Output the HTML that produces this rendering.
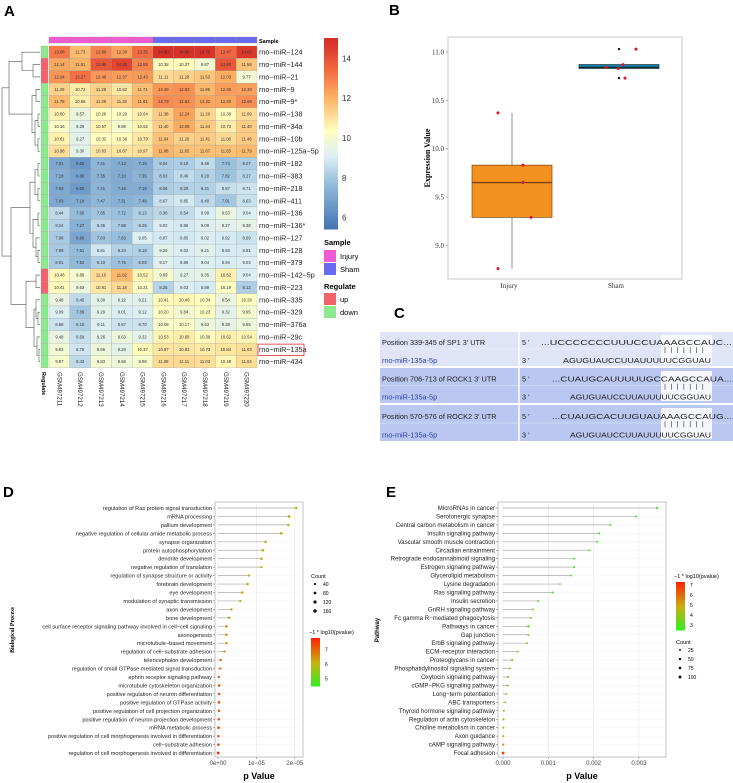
<!DOCTYPE html>
<html><head><meta charset="utf-8">
<style>
html,body{margin:0;padding:0;background:#fff;}
svg{display:block;font-family:"Liberation Sans",sans-serif;}
</style></head>
<body>
<svg id="fig" width="733" height="783" viewBox="0 0 733 783" xmlns="http://www.w3.org/2000/svg">
<g font-weight="bold" font-size="15">
<text x="4" y="16">A</text>
<text x="389" y="15">B</text>
<text x="394" y="318">C</text>
<text x="3" y="497">D</text>
<text x="386" y="497">E</text>
</g>
<g id="heat"></g>
<g id="box"></g>
<g id="seq"></g>
<g id="go"></g>
<g id="kegg"></g>
</svg>
<script>
// ---------- Heatmap data ----------
const hmRows = ["rno−miR−124","rno−miR−144","rno−miR−21","rno−miR−9","rno−miR−9*","rno−miR−138","rno−miR−34a","rno−miR−10b","rno−miR−125a−5p","rno−miR−182","rno−miR−383","rno−miR−218","rno−miR−411","rno−miR−136","rno−miR−136*","rno−miR−127","rno−miR−128","rno−miR−379","rno−miR−142−5p","rno−miR−223","rno−miR−335","rno−miR−329","rno−miR−376a","rno−miR−29c","rno−miR−135a","rno−miR−434"];
const hmCols = ["GSM497211","GSM497212","GSM497213","GSM497214","GSM497215","GSM497216","GSM497217","GSM497218","GSM497219","GSM497220"];
const hmGroups = ["Injury","Injury","Injury","Injury","Injury","Sham","Sham","Sham","Sham","Sham"];
const hmRegulate = ["down","up","up","down","down","down","down","down","down","down","down","down","down","down","down","down","down","down","up","up","down","down","down","down","down","down"];
const hmValues = [
[13.08,11.73,12.89,12.30,13.35,14.90,14.80,14.70,13.47,14.60],
[12.14,11.91,13.85,14.30,12.85,10.38,10.37,9.87,13.90,11.58],
[12.54,13.27,12.48,12.37,12.43,11.11,11.28,11.53,12.03,9.77],
[11.29,10.72,11.28,10.82,11.71,12.49,12.63,11.85,12.35,12.30],
[11.78,10.68,11.39,11.32,11.91,12.73,12.63,12.22,12.20,12.66],
[10.60,9.57,10.26,10.20,10.64,11.38,12.24,11.20,10.39,11.09],
[10.16,9.26,10.57,9.88,10.52,11.40,12.08,11.44,10.73,11.40],
[10.61,9.27,10.32,10.36,10.79,11.64,11.29,11.41,11.08,11.46],
[10.98,9.30,10.83,10.87,10.97,11.88,11.65,11.67,11.65,11.79],
[7.01,6.50,7.41,7.13,7.18,8.04,8.10,8.46,7.74,8.07],
[7.18,6.80,7.35,7.10,7.35,8.03,8.46,8.20,7.82,8.27],
[7.03,6.60,7.41,7.16,7.15,8.06,8.20,8.21,8.57,8.71],
[7.03,7.10,7.47,7.31,7.48,8.67,8.85,8.40,7.91,8.63],
[8.44,7.60,7.85,7.72,8.13,8.38,8.54,8.99,9.53,9.04],
[8.24,7.27,8.36,7.98,8.25,9.02,8.86,9.09,9.27,9.38],
[7.98,6.90,7.83,7.63,9.05,8.87,8.85,9.02,8.92,8.69],
[7.99,7.61,8.81,8.24,8.18,9.26,9.02,9.21,8.93,8.91],
[8.01,7.52,8.10,7.76,8.03,9.17,8.89,9.04,8.94,9.03],
[10.46,9.86,11.10,11.82,10.52,9.89,9.27,9.35,10.62,9.04],
[10.41,9.63,10.81,11.18,10.21,8.26,9.03,8.89,10.19,8.12],
[9.48,8.45,9.30,9.22,9.21,10.41,10.49,10.34,9.54,10.28],
[9.09,7.89,9.29,9.01,9.12,10.20,9.84,10.23,9.32,9.95],
[8.68,8.10,9.11,8.67,8.70,10.08,10.17,9.63,9.38,9.65],
[9.48,8.59,9.26,9.63,9.32,10.53,10.68,10.36,10.62,10.54],
[9.83,8.76,9.65,9.29,10.37,10.87,10.83,10.73,10.84,11.03],
[9.97,8.43,9.83,9.68,9.98,11.08,11.11,11.03,10.48,11.04]];
const hmTicks = [6,8,10,12,14];
// ---------- Boxplot data ----------
const bxGroups = ["Injury","Sham"];
const bxInjury = [9.83,8.76,9.65,9.29,10.37];
const bxSham = [10.87,10.83,10.73,10.84,11.03];
const bxTicks = [9.0,9.5,10.0,10.5,11.0];
// ---------- GO data (p in units of 1e-5) ----------
const goTerms = ["regulation of Ras protein signal transduction","mRNA processing","pallium development","negative regulation of cellular amide metabolic process","synapse organization","protein autophosphorylation","dendrite development","negative regulation of translation","regulation of synapse structure or activity","forebrain development","eye development","modulation of synaptic transmission","axon development","bone development","cell surface receptor signaling pathway involved in cell−cell signaling","axonogenesis","microtubule−based movement","regulation of cell−substrate adhesion","telencephalon development","regulation of small GTPase mediated signal transduction","ephrin receptor signaling pathway","microtubule cytoskeleton organization","positive regulation of neuron differentiation","positive regulation of GTPase activity","positive regulation of cell projection organization","positive regulation of neuron projection development","mRNA metabolic process","positive regulation of cell morphogenesis involved in differentiation","cell−substrate adhesion","regulation of cell morphogenesis involved in differentiation"];
const goPvals = [2.04,1.85,1.83,1.65,1.24,1.17,1.13,1.13,0.81,0.77,0.63,0.58,0.35,0.29,0.22,0.22,0.22,0.17,0.07,0.06,0.02,0.03,0.03,0.025,0.025,0.02,0.015,0.01,0.01,0.005];
const goCounts = [60,80,60,70,60,70,60,40,50,60,60,40,50,50,60,60,50,40,50,50,40,60,60,70,60,60,70,50,60,80];
const goTicks = [0,1,2];
const goTickLabels = ["0e+00","1e−05","2e−05"];
// ---------- KEGG data ----------
const kgTerms = ["MicroRNAs in cancer","Serotonergic synapse","Central carbon metabolism in cancer","Insulin signaling pathway","Vascular smooth muscle contraction","Circadian entrainment","Retrograde endocannabinoid signaling","Estrogen signaling pathway","Glycerolipid metabolism","Lysine degradation","Ras signaling pathway","Insulin secretion","GnRH signaling pathway","Fc gamma R−mediated phagocytosis","Pathways in cancer","Gap junction","ErbB signaling pathway","ECM−receptor interaction","Proteoglycans in cancer","Phosphatidylinositol signaling system","Oxytocin signaling pathway","cGMP−PKG signaling pathway","Long−term potentiation","ABC transporters","Thyroid hormone signaling pathway","Regulation of actin cytoskeleton","Choline metabolism in cancer","Axon guidance","cAMP signaling pathway","Focal adhesion"];
const kgPvals = [0.0034,0.00294,0.00237,0.00212,0.00208,0.00191,0.00157,0.00157,0.0015,0.00126,0.0011,0.00078,0.00066,0.00062,0.00056,0.00056,0.00053,0.00032,0.0002,0.00015,0.00011,0.0001,0.00007,0.00005,0.00002,0.00001,0.000008,0.000006,0.000004,0.0000001];
const kgCounts = [40,25,25,30,30,25,30,25,20,20,30,25,25,25,60,30,25,25,40,25,40,40,25,20,30,35,30,30,40,80];
const kgTicks = [0,0.001,0.002,0.003];
const kgTickLabels = ["0.000","0.001","0.002","0.003"];

const NS="http://www.w3.org/2000/svg";
function mk(parent,tag,attrs,text){const e=document.createElementNS(NS,tag);for(const k in attrs)e.setAttribute(k,attrs[k]);if(text!==undefined)e.textContent=text;parent.appendChild(e);return e;}
function hex(c){return [parseInt(c.substr(1,2),16),parseInt(c.substr(3,2),16),parseInt(c.substr(5,2),16)];}
function interp(stops,v){if(v<=stops[0][0])return stops[0][1];for(let i=1;i<stops.length;i++){if(v<=stops[i][0]){const t=(v-stops[i-1][0])/(stops[i][0]-stops[i-1][0]);const a=hex(stops[i-1][1]),b=hex(stops[i][1]);return "rgb("+a.map((x,j)=>Math.round(x+(b[j]-x)*t)).join(",")+")";}}return stops[stops.length-1][1];}
const heatStops=[[5.4,"#4575b4"],[7.5,"#8fb8d9"],[9,"#dbeef5"],[10.3,"#ffffbf"],[12,"#fdb062"],[13.3,"#f46d43"],[14.8,"#d73027"]];
const pStops=[[2.5,"#33ee22"],[5,"#c8b010"],[7.5,"#ff2200"]];
function rad(c){return 0.5+Math.sqrt(c)*0.1;}

// ================= HEATMAP =================
(function(){
const g=document.getElementById('heat');
const x0=49,cw=20.8,y0=46,rh=12.38;
const hx=i=>x0+i*cw, hy=r=>y0+r*rh;
hmGroups.forEach((s,i)=>{const r=mk(g,'rect',{x:hx(i),y:37,width:cw,height:6,fill:s==="Injury"?"#f05bd2":"#6a6af0",stroke:"#888","stroke-width":0.3});

});
mk(g,'text',{x:259,y:43,'font-size':5.5,'font-weight':'bold',},'Sample');
hmValues.forEach((row,r)=>{
 row.forEach((v,c)=>{
  const rc=mk(g,'rect',{x:hx(c),y:hy(r),width:cw,height:rh,fill:interp(heatStops,v),stroke:"#999","stroke-width":0.25});
  
  
  mk(g,'text',{x:hx(c)+cw/2,y:hy(r)+rh/2+1.5,'font-size':4.2,'text-anchor':'middle',fill:'#333'},v.toFixed(2));
 });
 const rg=mk(g,'rect',{x:41,y:hy(r),width:7,height:rh,fill:hmRegulate[r]==="up"?"#f2626b":"#8ee88e",stroke:"#999","stroke-width":0.25});
 
 
 const t=mk(g,'text',{x:259,y:hy(r)+rh/2+2.5,'font-size':7.2,fill:'#222'},hmRows[r]);
 
 
});
mk(g,'rect',{x:258,y:hy(24)+1,width:46,height:rh-1,fill:'none',stroke:'#e03030','stroke-width':0.8,});
hmCols.forEach((c,i)=>{const t=mk(g,'text',{x:0,y:0,'font-size':6.2,transform:`translate(${hx(i)+cw/2-2},372) rotate(90)`,fill:'#222'},c);

});
mk(g,'text',{x:0,y:0,'font-size':5.5,'font-weight':'bold',transform:'translate(42,372) rotate(90)',},'Regulate');
const tree=[[[0,[1,2,33],22],[[3,4,36],[[5,6,38],[7,8,38],35],32],9],[[[[9,10,38],[11,12,38],35],[[13,14,38],[15,[16,17,38],36],33],30],[[18,19,36],[[20,[21,22,38],36],[23,[24,25,39],37],34],26],11],2];
function draw(n){ if(typeof n==="number") return {x:40,y:hy(n)+rh/2};
 const a=draw(n[0]),b=draw(n[1]),x=n[2];
 mk(g,'path',{d:`M${a.x},${a.y}H${x}V${b.y}H${b.x}`,fill:'none',stroke:'#555','stroke-width':0.6});
 return {x:x,y:(a.y+b.y)/2};}
draw(tree);
const cb=mk(g,'g',{});
const vmin=5.4,vmax=15,by0=38,by1=229,bys=v=>by1-(v-vmin)/(vmax-vmin)*(by1-by0);
for(let i=0;i<96;i++){const v=vmin+(vmax-vmin)*i/96;mk(cb,'rect',{x:324,y:bys(v+(vmax-vmin)/96),width:14,height:(by1-by0)/96+0.5,fill:interp(heatStops,v)});}
hmTicks.forEach(t=>{mk(cb,'text',{x:342,y:bys(t)+3.5,'font-size':8,fill:'#333'},t);});
const lg=mk(g,'g',{});
mk(lg,'text',{x:324,y:245,'font-size':7.5,'font-weight':'bold'},'Sample');
mk(lg,'rect',{x:324,y:250,width:12,height:12,fill:'#f05bd2'});mk(lg,'text',{x:340,y:259,'font-size':7.5},'Injury');
mk(lg,'rect',{x:324,y:263,width:12,height:12,fill:'#6a6af0'});mk(lg,'text',{x:340,y:272,'font-size':7.5},'Sham');
mk(lg,'text',{x:324,y:289,'font-size':7.5,'font-weight':'bold'},'Regulate');
mk(lg,'rect',{x:324,y:293,width:12,height:12,fill:'#f2626b'});mk(lg,'text',{x:340,y:302,'font-size':7.5},'up');
mk(lg,'rect',{x:324,y:306,width:12,height:12,fill:'#8ee88e'});mk(lg,'text',{x:340,y:315,'font-size':7.5},'down');
})();

// ================= BOXPLOT =================
(function(){
const g=document.getElementById('box');
const L=448,R=682,T=37,B=279;
const ys=v=>52+(11.0-v)/0.5*48.35;
mk(g,'rect',{x:L,y:T,width:R-L,height:B-T,fill:'#fff',stroke:'#bbb','stroke-width':0.8,});
bxTicks.forEach(t=>{mk(g,'line',{x1:L-2,x2:L,y1:ys(t),y2:ys(t),stroke:'#666','stroke-width':0.5});
 const tt=mk(g,'text',{x:L-4,y:ys(t)+2.5,'font-size':7,'text-anchor':'end','font-family':'Liberation Serif, serif',fill:'#333'},t.toFixed(1));
 
 });
mk(g,'text',{x:0,y:0,'font-size':8,'font-weight':'bold','font-family':'Liberation Serif, serif',transform:'translate(430,158) rotate(-90)','text-anchor':'middle',},'Expression Value');
function q(a,p){const s=[...a].sort((x,y)=>x-y);const i=(s.length-1)*p,lo=Math.floor(i),hi=Math.ceil(i);return s[lo]+(s[hi]-s[lo])*(i-lo);}
const centers=[512,619],half=40;
[bxInjury,bxSham].forEach((d,k)=>{
 const q1=q(d,0.25),md=q(d,0.5),q3=q(d,0.75),iqr=q3-q1;
 const inl=d.filter(v=>v>=q1-1.5*iqr&&v<=q3+1.5*iqr);
 const lo=Math.min(...inl),hi=Math.max(...inl),cx=centers[k];
 const fill=k===0?"#f5921f":"#1a7fa6",edge=k===0?"#7a4210":"#0d2a38";
 mk(g,'line',{x1:cx,x2:cx,y1:ys(hi),y2:ys(lo),stroke:'#777','stroke-width':0.8});
 const b=mk(g,'rect',{x:cx-half,y:ys(q3),width:half*2,height:Math.max(ys(q1)-ys(q3),1),fill:fill,stroke:edge,'stroke-width':0.7});
 
 
 mk(g,'line',{x1:cx-half,x2:cx+half,y1:ys(md),y2:ys(md),stroke:edge,'stroke-width':1.4});
 d.forEach(v=>{if(v<lo||v>hi)mk(g,'circle',{cx:cx,cy:ys(v),r:1.2,fill:'#111'});});
 const tl=mk(g,'text',{x:cx-3,y:288,'font-size':7,'text-anchor':'middle','font-family':'Liberation Serif, serif',fill:'#333'},bxGroups[k]);
 
 
});
const jit=[[11,-14,11,19,-14],[4,-1,6,-13,17]];
[bxInjury,bxSham].forEach((d,k)=>d.forEach((v,i)=>{const c=mk(g,'circle',{cx:centers[k]+jit[k][i],cy:ys(v),r:1.5,fill:'#e4101e'});
 
 }));
})();

// ================= SEQUENCES =================
(function(){
const g=document.getElementById('seq');
const blocks=[{y:332,h:34,bg:"#dfe4f6",pos:"Position 339-345 of SP1 3' UTR",top:"...UCCCCCCCUUUCCUAAAGCCAUC...",tx:541,bx:563},
{y:368,h:35,bg:"#b9c7f1",pos:"Position 706-713 of ROCK1 3' UTR",top:"...CUAUGCAUUUUUGCCAAGCCAUA...",tx:552,bx:570},
{y:405,h:36,bg:"#b9c7f1",pos:"Position 570-576 of ROCK2 3' UTR",top:"...CUAUGCACUUGUAUAAAGCCAUG...",tx:552,bx:570}];
blocks.forEach((b,i)=>{
 const bg=mk(g,'g',{});
 
 
 mk(bg,'rect',{x:380,y:b.y,width:353,height:b.h,fill:b.bg});
 mk(bg,'line',{x1:519,x2:519,y1:b.y,y2:b.y+b.h,stroke:'#fff','stroke-width':1.5});
 mk(bg,'line',{x1:380,x2:733,y1:b.y+b.h/2,y2:b.y+b.h/2,stroke:'#fff','stroke-width':0.5,opacity:0.6});
 mk(bg,'rect',{x:661,y:b.y+3,width:51,height:b.h-5,fill:'#fff',opacity:0.85});
 mk(bg,'text',{x:382,y:b.y+b.h*0.3+3,'font-size':7.3,fill:'#222'},b.pos);
 mk(bg,'text',{x:382,y:b.y+b.h*0.82+3,'font-size':7.3,fill:'#3040a8'},'rno-miR-135a-5p');
 mk(bg,'text',{x:522,y:b.y+b.h*0.3+3,'font-size':7.3,fill:'#222'},"5 '");
 mk(bg,'text',{x:522,y:b.y+b.h*0.82+3,'font-size':7.3,fill:'#222'},"3 '");
 mk(bg,'text',{x:b.tx,y:b.y+b.h*0.3+3,'font-size':7.3,fill:'#222',textLength:732-b.tx,lengthAdjust:'spacingAndGlyphs'},b.top);
 mk(bg,'text',{x:b.bx,y:b.y+b.h*0.82+3,'font-size':7.3,fill:'#222',textLength:711-b.bx,lengthAdjust:'spacingAndGlyphs'},'AGUGUAUCCUUAUUUUUCGGUAU');
 for(let k=0;k<7;k++)mk(bg,'line',{x1:665+k*6.3,x2:665+k*6.3,y1:b.y+b.h*0.45,y2:b.y+b.h*0.62,stroke:'#333','stroke-width':0.6});
});
})();

// ================= LOLLIPOPS =================
function lollipop(gid,terms,pvals,counts,ticks,tickLabels,opt){
 const g=document.getElementById(gid);
 const xs=v=>opt.x0+v*opt.k;
 const ys=i=>508+i*8.45;
 mk(g,'rect',{x:opt.L,y:502,width:opt.R-opt.L,height:255,fill:'#fff',stroke:'#aaa','stroke-width':0.7});
 ticks.forEach((t,i)=>{mk(g,'line',{x1:xs(t),x2:xs(t),y1:502,y2:757,stroke:'#e6e6e6','stroke-width':0.6});
  mk(g,'line',{x1:xs(t),x2:xs(t),y1:757,y2:759,stroke:'#666','stroke-width':0.5});
  const tl=mk(g,'text',{x:xs(t),y:765,'font-size':6,'text-anchor':'middle',fill:'#444'},tickLabels[i]);
  
  });
 terms.forEach((t,i)=>{
  mk(g,'line',{x1:opt.L,x2:opt.R,y1:ys(i),y2:ys(i),stroke:'#f0f0f0','stroke-width':0.5});
  const lb=mk(g,'text',{x:opt.L-3,y:ys(i)+2,'font-size':opt.fs,'text-anchor':'end',fill:'#222'},t+' ');
  
  
  mk(g,'line',{x1:opt.L-2,x2:opt.L,y1:ys(i),y2:ys(i),stroke:'#666','stroke-width':0.5});
  const ln=mk(g,'line',{x1:xs(0),x2:xs(pvals[i]),y1:ys(i),y2:ys(i),stroke:'#aaa','stroke-width':0.7});
  
  
  const lp=-Math.log10(pvals[i]*opt.unit);
  const c=mk(g,'circle',{cx:xs(pvals[i]),cy:ys(i),r:rad(counts[i]),fill:interp(pStops,lp)});
  
  
 });
 mk(g,'text',{x:(opt.L+opt.R)/2,y:779,'font-size':9,'font-weight':'bold','text-anchor':'middle',},'p Value');
 mk(g,'text',{x:0,y:0,'font-size':6,'font-weight':'bold','font-family':opt.titleFont,transform:`translate(${opt.tx},630) rotate(-90)`,'text-anchor':'middle',},opt.title);
}
lollipop('go',goTerms,goPvals,goCounts,goTicks,goTickLabels,{x0:218,k:38.4,L:215,R:303,fs:5.6,unit:1e-5,title:'Biological Process',tx:14,titleFont:'Liberation Serif, serif'});
lollipop('kegg',kgTerms,kgPvals,kgCounts,kgTicks,kgTickLabels,{x0:503,k:45300,L:498,R:666,fs:6.1,unit:1,title:'Pathway',tx:379,titleFont:'Liberation Sans, sans-serif'});

function legends(cntLabels,cntY,barX,barY,lblY,barTicks,barMin,barMax){
 const g=document.getElementById('fig');
 const lg=mk(g,'g',{});
 
 
 mk(lg,'text',{x:barX,y:cntY,'font-size':5.5},'Count');
 cntLabels.forEach((c,i)=>{mk(lg,'circle',{cx:barX+4,cy:cntY+6+i*9,r:rad(c),fill:'#111'});mk(lg,'text',{x:barX+12,y:cntY+8+i*9,'font-size':5},c);});
 mk(lg,'text',{x:barX-2,y:lblY,'font-size':5.5},'−1 * log10(pvalue)');
 const h=48;
 for(let i=0;i<48;i++){const v=barMax-(barMax-barMin)*i/48;mk(lg,'rect',{x:barX,y:barY+i,width:9,height:1.5,fill:interp(pStops,(v-barMin)/(barMax-barMin)*5+2.5)});}
 barTicks.forEach(t=>mk(lg,'text',{x:barX+14,y:barY+(barMax-t)/(barMax-barMin)*h+2,'font-size':5},t));
}
legends([40,80,120,160],578,311,638,634,[5,6,7],4.5,7.8);
legends([25,50,75,100],644,676,582,578,[3,4,5,6,7],2.5,7.3);
</script>
</body></html>
